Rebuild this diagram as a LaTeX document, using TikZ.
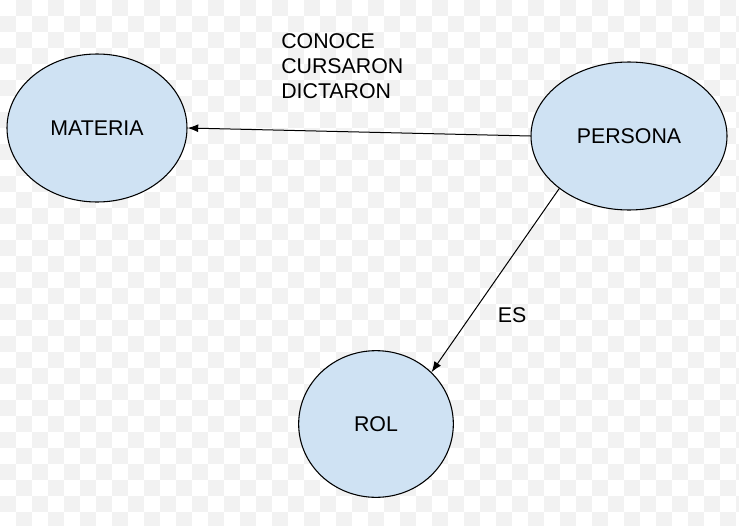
\documentclass[tikz,border=0pt]{standalone}
\usepackage{fontspec}
\setmainfont{Liberation Sans}
\usetikzlibrary{shapes.geometric,arrows.meta}
\definecolor{nodefill}{HTML}{CFE2F3}
\definecolor{checker}{HTML}{F2F2F2}
\tikzset{
  ent/.style={ellipse, draw=black, line width=0.8pt, fill=nodefill, inner sep=0pt, font=\fontsize{16}{19}\selectfont},
  rel/.style={draw=black, line width=0.75pt, -{Latex[length=8pt,width=6pt]}},
  lbl/.style={font=\fontsize{16}{19}\selectfont, inner sep=0pt}
}
\begin{document}
\begin{tikzpicture}[x=0.75pt,y=-0.75pt]
\useasboundingbox (0,0) rectangle (739,525);
\fill[white] (0,0) rectangle (739,525);
\foreach \i in {0,...,46}{
  \foreach \j in {0,...,32}{
    \pgfmathtruncatemacro{\chkpar}{mod(\i+\j,2)}
    \ifnum\chkpar=1
      \fill[checker] ({\i*16},{\j*16}) rectangle ({\i*16+16},{\j*16+16});
    \fi
  }
}
\node[ent, minimum width=135pt, minimum height=111pt] (materia) at (97,128) {MATERIA};
\node[ent, minimum width=147pt, minimum height=111pt] (persona) at (629,136) {PERSONA};
\node[ent, minimum width=116pt, minimum height=110pt] (rol) at (376,424) {ROL};
\draw[rel] (persona.west) -- (materia.east);
\draw[rel] (persona.-143) -- (rol.43);
\node[lbl, anchor=north west, align=left] (lab1) at (281,33) {CONOCE\\CURSARON\\DICTARON};
\node[lbl] (lab2) at (512,315) {ES};
\end{tikzpicture}
\end{document}
